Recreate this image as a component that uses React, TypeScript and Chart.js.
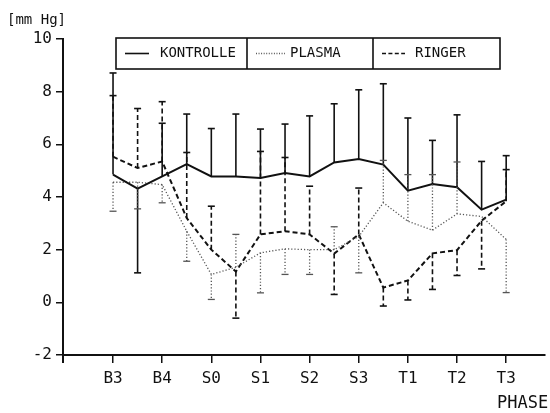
import React, { useEffect, useRef } from "react";
import { Chart, registerables } from "chart.js";

Chart.register(...registerables);

// Measurement positions: each phase plus the midpoint to the next phase
const positions = [0, 0.5, 1, 1.5, 2, 2.5, 3, 3.5, 4, 4.5, 5, 5.5, 6, 6.5, 7, 7.5, 8];
const phases = ["B3", "B4", "S0", "S1", "S2", "S3", "T1", "T2", "T3"];
const yTicks = [-2, 0, 2, 4, 6, 8, 10];

// Mean values [mm Hg]
const kontrolle = [4.85, 4.32, 4.78, 5.25, 4.78, 4.78, 4.72, 4.91, 4.78, 5.31, 5.44, 5.23, 4.24, 4.49, 4.37, 3.52, 3.9];
const plasma = [4.56, 4.56, 4.47, 2.7, 1.06, 1.33, 1.88, 2.03, 2.0, 2.0, 2.5, 3.78, 3.08, 2.74, 3.36, 3.26, 2.39];
const ringer = [5.53, 5.1, 5.35, 3.2, 2.0, 1.17, 2.58, 2.7, 2.58, 1.85, 2.58, 0.56, 0.83, 1.86, 1.98, 3.1, 3.84];

// End value of the one-sided standard deviation bar for each mean
const kontrolleSd = [8.71, 1.12, 6.8, 7.15, 6.6, 7.15, 6.58, 6.77, 7.08, 7.54, 8.07, 8.3, 7.0, 6.15, 7.12, 5.35, 5.57];
const plasmaSd = [3.46, 3.55, 3.78, 1.56, 0.11, 2.58, 0.36, 1.06, 1.06, 2.87, 1.12, 5.39, 4.85, 4.85, 5.33, null, 0.37];
const ringerSd = [7.85, 7.36, 7.62, 5.69, 3.65, -0.6, 5.73, 5.5, 4.41, 0.3, 4.34, -0.14, 0.09, 0.49, 1.02, 1.27, 5.04];

const MONO = '"DejaVu Sans Mono", monospace';

const styles = {
  kontrolle: { color: "#111", width: 2, dash: [] as number[] },
  plasma: { color: "#555", width: 1.3, dash: [1.2, 2] },
  ringer: { color: "#111", width: 2, dash: [5, 3] },
};

const errorBars = {
  id: "errorBars",
  afterDatasetsDraw(chart: any) {
    const { ctx, scales } = chart;
    const xs = scales.x;
    const ys = scales.y;
    const groups = [
      { means: kontrolle, ends: kontrolleSd, st: styles.kontrolle, w: 1.6 },
      { means: plasma, ends: plasmaSd, st: styles.plasma, w: 1.3 },
      { means: ringer, ends: ringerSd, st: styles.ringer, w: 1.6 },
    ];
    ctx.save();
    for (const g of groups) {
      ctx.strokeStyle = g.st.color;
      ctx.lineWidth = g.w;
      g.ends.forEach((end: number | null, i: number) => {
        if (end === null) return;
        const px = xs.getPixelForValue(positions[i]);
        const y0 = ys.getPixelForValue(g.means[i]);
        const y1 = ys.getPixelForValue(end);
        ctx.setLineDash(g.st.dash);
        ctx.beginPath();
        ctx.moveTo(px, y0);
        ctx.lineTo(px, y1);
        ctx.stroke();
        ctx.setLineDash([]);
        ctx.beginPath();
        ctx.moveTo(px - 3.5, y1);
        ctx.lineTo(px + 3.5, y1);
        ctx.stroke();
      });
    }
    ctx.restore();
  },
};

const decorations = {
  id: "decorations",
  afterDraw(chart: any) {
    const { ctx, chartArea } = chart;
    ctx.save();
    // unit label and axis title
    ctx.fillStyle = "#111";
    ctx.font = `14px ${MONO}`;
    ctx.textBaseline = "middle";
    ctx.textAlign = "left";
    ctx.fillText("[mm Hg]", 7, 20);
    ctx.font = `17px ${MONO}`;
    ctx.fillText("PHASE", 497, 404);

    // axis stub below the origin
    ctx.strokeStyle = "#111";
    ctx.lineWidth = 2;
    ctx.beginPath();
    ctx.moveTo(chartArea.left, chartArea.bottom);
    ctx.lineTo(chartArea.left, chartArea.bottom + 8);
    ctx.stroke();

    // legend box
    const top = 38;
    const bottom = 69;
    const mid = (top + bottom) / 2;
    ctx.lineWidth = 1.6;
    ctx.strokeRect(116, top, 384, bottom - top);
    ctx.beginPath();
    ctx.moveTo(247, top);
    ctx.lineTo(247, bottom);
    ctx.moveTo(373, top);
    ctx.lineTo(373, bottom);
    ctx.stroke();

    const items = [
      { st: styles.kontrolle, x0: 125, x1: 149, tx: 160, label: "KONTROLLE" },
      { st: styles.plasma, x0: 256, x1: 285, tx: 290, label: "PLASMA" },
      { st: styles.ringer, x0: 382, x1: 405, tx: 415, label: "RINGER" },
    ];
    ctx.font = `14px ${MONO}`;
    for (const it of items) {
      ctx.strokeStyle = it.st.color;
      ctx.lineWidth = it.st.width === 2 ? 1.6 : it.st.width;
      ctx.setLineDash(it.st.dash.length ? it.st.dash.map((d) => d * 0.8) : []);
      ctx.beginPath();
      ctx.moveTo(it.x0, mid);
      ctx.lineTo(it.x1, mid);
      ctx.stroke();
      ctx.setLineDash([]);
      ctx.fillStyle = "#111";
      ctx.fillText(it.label, it.tx, mid);
    }
    ctx.restore();
  },
};

export default function App() {
  const canvasRef = useRef<HTMLCanvasElement | null>(null);

  useEffect(() => {
    const canvas = canvasRef.current;
    if (!canvas) return;
    const toPoints = (vals: number[]) => vals.map((v, i) => ({ x: positions[i], y: v }));
    const chart = new Chart(canvas, {
      type: "line",
      data: {
        datasets: [
          {
            label: "KONTROLLE",
            data: toPoints(kontrolle),
            borderColor: styles.kontrolle.color,
            borderWidth: styles.kontrolle.width,
            pointRadius: 0,
            tension: 0,
          },
          {
            label: "PLASMA",
            data: toPoints(plasma),
            borderColor: styles.plasma.color,
            borderWidth: styles.plasma.width,
            borderDash: styles.plasma.dash,
            pointRadius: 0,
            tension: 0,
          },
          {
            label: "RINGER",
            data: toPoints(ringer),
            borderColor: styles.ringer.color,
            borderWidth: styles.ringer.width,
            borderDash: styles.ringer.dash,
            pointRadius: 0,
            tension: 0,
          },
        ],
      },
      options: {
        animation: false,
        responsive: true,
        maintainAspectRatio: false,
        layout: { padding: { top: 39, right: 5, left: 0, bottom: 0 } },
        plugins: { legend: { display: false }, tooltip: { enabled: false } },
        scales: {
          x: {
            type: "linear",
            min: -1.018,
            max: 8.79,
            afterBuildTicks: (scale: any) => {
              scale.ticks = phases.map((_, i) => ({ value: i }));
            },
            afterFit: (scale: any) => {
              scale.height = 58;
            },
            ticks: {
              autoSkip: false,
              maxRotation: 0,
              padding: 6,
              color: "#111",
              font: { family: MONO, size: 16 },
              callback: (v: any) => phases[v] ?? "",
            },
            grid: { drawOnChartArea: false, drawTicks: true, tickLength: 8, color: "#111", lineWidth: 1.5 },
            border: { display: true, color: "#111", width: 2 },
          },
          y: {
            min: -2,
            max: 10,
            afterBuildTicks: (scale: any) => {
              scale.ticks = yTicks.map((v) => ({ value: v }));
            },
            afterFit: (scale: any) => {
              scale.width = 63;
            },
            ticks: {
              padding: 4,
              color: "#111",
              font: { family: MONO, size: 16 },
            },
            grid: { drawOnChartArea: false, drawTicks: true, tickLength: 7, color: "#111", lineWidth: 1.5 },
            border: { display: true, color: "#111", width: 2 },
          },
        },
      },
      plugins: [errorBars, decorations],
    });
    return () => chart.destroy();
  }, []);

  return (
    <div style={{ position: "fixed", left: 0, top: 0, width: 550, height: 413, background: "#fff" }}>
      <canvas ref={canvasRef} />
    </div>
  );
}
